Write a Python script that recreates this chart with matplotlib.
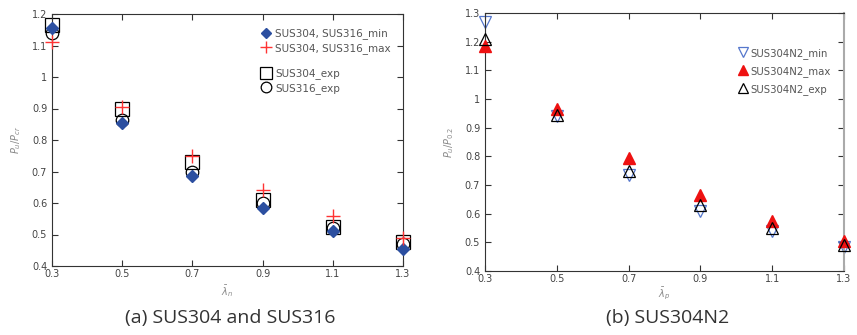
import matplotlib
matplotlib.use("Agg")
import matplotlib.pyplot as plt

# slenderness values
lam = [0.3, 0.5, 0.7, 0.9, 1.1, 1.3]

# (a) SUS304 and SUS316
a_min = [1.155, 0.855, 0.685, 0.585, 0.51, 0.455]
a_max = [1.11, 0.905, 0.75, 0.64, 0.56, 0.49]
a_304_exp = [1.165, 0.90, 0.73, 0.61, 0.525, 0.475]
a_316_exp = [1.14, 0.865, 0.70, 0.60, 0.52, 0.47]

# (b) SUS304N2
b_min = [1.27, 0.94, 0.735, 0.61, 0.54, 0.485]
b_max = [1.185, 0.965, 0.795, 0.665, 0.575, 0.505]
b_exp = [1.21, 0.945, 0.75, 0.63, 0.55, 0.49]

xticks = [0.3, 0.5, 0.7, 0.9, 1.1, 1.3]

fig = plt.figure(figsize=(8.57, 3.35), dpi=100)
ax1 = fig.add_axes([52/857, 1 - 266/335, 351/857, 252/335])
ax2 = fig.add_axes([485/857, 1 - 271/335, 359/857, 258/335])

tick_col = '#444444'

def style(ax, ylim, yticks, yticklabels):
    ax.set_xlim(0.3, 1.3)
    ax.set_ylim(*ylim)
    ax.set_xticks(xticks)
    ax.set_xticklabels(['0.3', '0.5', '0.7', '0.9', '1.1', '1.3'])
    ax.set_yticks(yticks)
    ax.set_yticklabels(yticklabels)
    ax.tick_params(direction='in', top=True, right=True, length=4, width=0.8,
                   labelsize=7, labelcolor=tick_col, colors='#333333')
    ax.tick_params(axis='x', labelcolor=tick_col, pad=2)
    for s in ax.spines.values():
        s.set_linewidth(0.8)
        s.set_color('#333333')

# panel (a)
h1, = ax1.plot(lam, a_min, 'D', color='#2c4fa0', ms=6, label='SUS304, SUS316_min', clip_on=False, zorder=3)
h2, = ax1.plot(lam, a_max, '+', color='#ff3333', ms=10, mew=1, label='SUS304, SUS316_max', clip_on=False, zorder=4)
h3, = ax1.plot(lam, a_304_exp, 's', mfc='none', mec='black', ms=10, mew=0.9, label='SUS304_exp', clip_on=False, zorder=2)
h4, = ax1.plot(lam, a_316_exp, 'o', mfc='none', mec='black', ms=9, mew=0.9, label='SUS316_exp', clip_on=False, zorder=2)
style(ax1, (0.4, 1.2), [0.4, 0.5, 0.6, 0.7, 0.8, 0.9, 1.0, 1.1, 1.2],
      ['0.4', '0.5', '0.6', '0.7', '0.8', '0.9', '1', '1.1', '1.2'])
ax1.set_ylabel(r'$P_u/P_{cr}$', fontsize=7, color='#888888', labelpad=6)
ax1.set_xlabel(r'$\bar{\lambda}_n$', fontsize=7, color='#888888', labelpad=3)
leg_a = ax1.legend(handles=[h1, h2], loc='upper left', bbox_to_anchor=(0.58, 0.96), frameon=False,
                   fontsize=7.5, labelcolor='#555555', handletextpad=0.3, labelspacing=0.35,
                   borderaxespad=0.0, handlelength=1.2, markerscale=0.85)
ax1.add_artist(leg_a)
ax1.legend(handles=[h3, h4], loc='upper left', bbox_to_anchor=(0.58, 0.80), frameon=False,
           fontsize=7.5, labelcolor='#555555', handletextpad=0.3, labelspacing=0.35,
           borderaxespad=0.0, handlelength=1.2, markerscale=0.85)

# panel (b)
ax2.plot(lam, b_min, 'v', mfc='none', mec='#5577cc', ms=9, mew=0.9, label='SUS304N2_min', clip_on=False, zorder=2)
ax2.plot(lam, b_max, '^', color='#ee1111', ms=8, label='SUS304N2_max', clip_on=False, zorder=3)
ax2.plot(lam, b_exp, '^', mfc='none', mec='black', ms=9, mew=0.9, label='SUS304N2_exp', clip_on=False, zorder=4)
style(ax2, (0.4, 1.3), [0.4, 0.5, 0.6, 0.7, 0.8, 0.9, 1.0, 1.1, 1.2, 1.3],
      ['0.4', '0.5', '0.6', '0.7', '0.8', '0.9', '1', '1.1', '1.2', '1.3'])
ax2.spines['right'].set_color('#aaaaaa')
ax2.spines['right'].set_linewidth(1.5)
ax2.set_ylabel(r'$P_u/P_{0.2}$', fontsize=7, color='#888888', labelpad=6)
ax2.set_xlabel(r'$\bar{\lambda}_p$', fontsize=7, color='#888888', labelpad=1)
ax2.legend(loc='upper left', bbox_to_anchor=(0.69, 0.88), frameon=False, fontsize=7.3,
           labelcolor='#555555', handletextpad=0.1, labelspacing=0.7, borderaxespad=0.0,
           handlelength=1.2, markerscale=0.85)

fig.text(230/857, 1 - 318/335, '(a) SUS304 and SUS316', ha='center', va='center',
         fontsize=14, color='#333333', family='Open Sans')
fig.text(668/857, 1 - 318/335, '(b) SUS304N2', ha='center', va='center',
         fontsize=14, color='#333333', family='Open Sans')

fig.savefig('out.png', dpi=100)
